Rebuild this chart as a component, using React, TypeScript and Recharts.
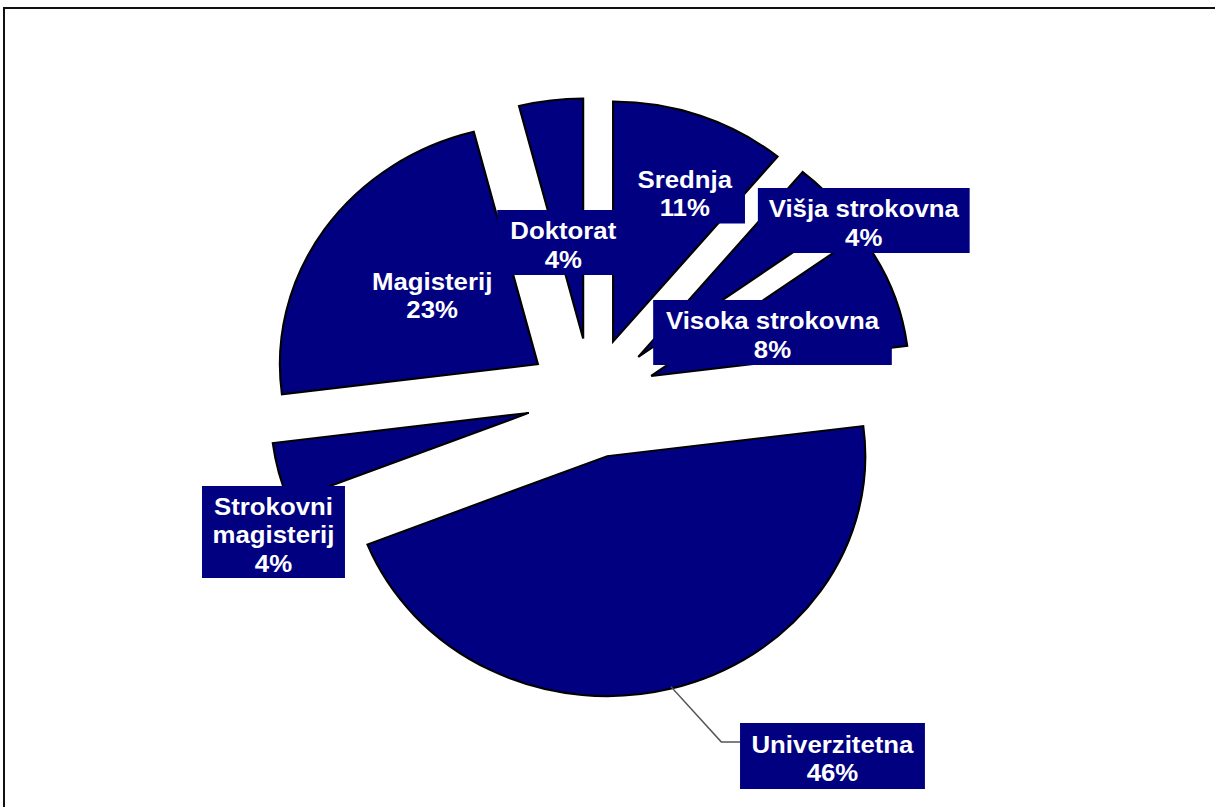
import { PieChart, Pie, Cell } from 'recharts';

const categories = [
  'Srednja',
  'Višja strokovna',
  'Visoka strokovna',
  'Univerzitetna',
  'Strokovni magisterij',
  'Magisterij',
  'Doktorat',
];
const shares = [11, 4, 8, 46, 4, 23, 4];

const data = categories.map((name, i) => ({ name, value: shares[i] }));
const total = shares.reduce((a, b) => a + b, 0);
const cumulative: number[] = [];
shares.reduce((acc, v, i) => {
  cumulative[i] = acc;
  return acc + v;
}, 0);

// the original picture is stretched sideways, so the whole chart gets scaled on x
const STRETCH = 1.075;
const W = 1130;
const H = 807;
const CX = 550;
const CY = 398;
const R = 240;
const EXPLODE = 60;
const NAVY = '#000080';
const RAD = Math.PI / 180;

// label boxes were dragged by hand in the source, so they sit at fixed spots
type Box = { x: number; y: number; w: number; h: number; wrap?: boolean; leader?: [number, number] };
const LABEL_BOX: Record<string, Box> = {
  Srednja: { x: 637, y: 191, w: 112, h: 65 },
  'Višja strokovna': { x: 803.5, y: 220.5, w: 197, h: 65 },
  'Visoka strokovna': { x: 718.6, y: 332.5, w: 222, h: 65 },
  Univerzitetna: { x: 774.4, y: 756, w: 172, h: 66, leader: [671, 742] },
  'Strokovni magisterij': { x: 254.4, y: 532, w: 133, h: 92, wrap: true },
  Magisterij: { x: 402, y: 293, w: 130, h: 65 },
  Doktorat: { x: 524, y: 242.5, w: 123, h: 65 },
};

const renderLabel = (props: any) => {
  const name: string = props.payload?.name ?? props.name;
  const box = LABEL_BOX[name];
  if (!box) return null;
  const lines = box.wrap ? name.split(' ') : [name];
  lines.push(`${Math.round(props.percent * 100)}%`);
  const step = 28.5;
  const mid = box.y + 2.5;
  const first = mid - ((lines.length - 1) * step) / 2;
  let leader = null;
  if (box.leader) {
    const r = R + EXPLODE - 2;
    const sx = props.cx + r * Math.cos(-props.midAngle * RAD);
    const sy = props.cy + r * Math.sin(-props.midAngle * RAD);
    leader = (
      <polyline
        points={`${sx},${sy} ${box.leader[0]},${box.leader[1]} ${box.x - box.w / 2},${box.leader[1]}`}
        fill="none"
        stroke="#555"
        strokeWidth={1.5}
      />
    );
  }
  return (
    <g key={name}>
      {leader}
      <rect x={box.x - box.w / 2} y={box.y - box.h / 2} width={box.w} height={box.h} fill={NAVY} />
      {lines.map((t, k) => (
        <text
          key={k}
          x={box.x}
          y={first + k * step + 8.6}
          textAnchor="middle"
          fill="#fff"
          fontSize={24}
          fontWeight="bold"
          fontFamily="'Liberation Sans', Arial, sans-serif"
        >
          {t}
        </text>
      ))}
    </g>
  );
};

export default function App() {
  return (
    <div style={{ position: 'absolute', left: 0, top: 0, width: 1215, height: 807, overflow: 'hidden', background: '#fff' }}>
      <div
        style={{
          position: 'absolute',
          left: 3,
          top: 7,
          width: 1212,
          height: 800,
          boxSizing: 'border-box',
          borderLeft: '2px solid #111',
          borderTop: '2px solid #111',
        }}
      />
      <div style={{ position: 'absolute', left: 0, top: 0, width: W, height: H, transform: `scaleX(${STRETCH})`, transformOrigin: '0 0' }}>
        <PieChart width={W} height={H} margin={{ top: 0, right: 0, bottom: 0, left: 0 }}>
          {data.map((d, i) => {
            const mid = (90 - (360 * (cumulative[i] + shares[i] / 2)) / total) * RAD;
            return (
              <Pie
                key={d.name}
                data={data}
                dataKey="value"
                nameKey="name"
                cx={CX + EXPLODE * Math.cos(mid)}
                cy={CY - EXPLODE * Math.sin(mid)}
                outerRadius={R}
                startAngle={90}
                endAngle={-270}
                labelLine={false}
                isAnimationActive={false}
              >
                {data.map((_, j) => (
                  <Cell
                    key={j}
                    fill={j === i ? NAVY : 'none'}
                    stroke={j === i ? '#000' : 'none'}
                    strokeWidth={2}
                  />
                ))}
              </Pie>
            );
          })}
          <Pie
            data={data}
            dataKey="value"
            nameKey="name"
            cx={CX}
            cy={CY}
            outerRadius={R}
            startAngle={90}
            endAngle={-270}
            fill="none"
            stroke="none"
            label={renderLabel}
            labelLine={false}
            isAnimationActive={false}
          />
        </PieChart>
      </div>
    </div>
  );
}
